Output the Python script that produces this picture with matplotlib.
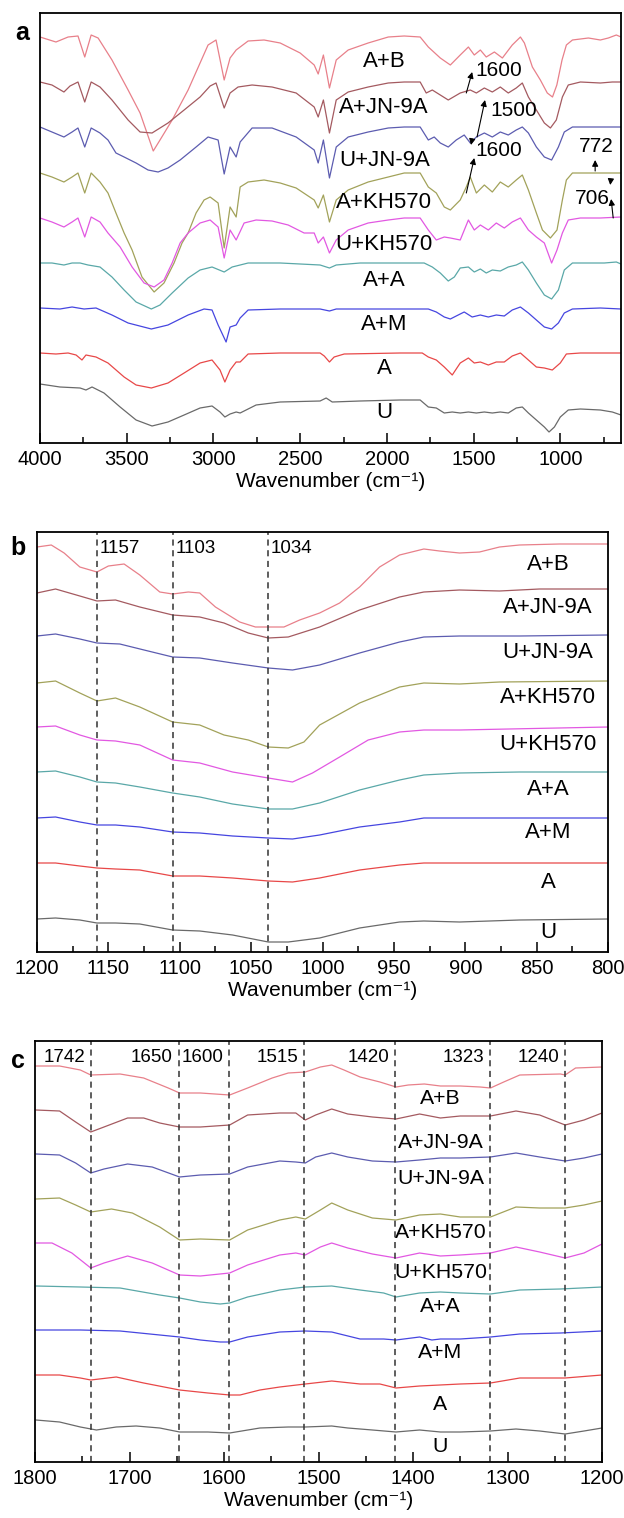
import numpy as np
import matplotlib
matplotlib.use("Agg")
import matplotlib.pyplot as plt
from matplotlib.ticker import MultipleLocator

plt.rcParams['font.family'] = ['Liberation Sans', 'DejaVu Sans']

# sample names, top to bottom, and line colours
names = ['A+B', 'A+JN-9A', 'U+JN-9A', 'A+KH570', 'U+KH570', 'A+A', 'A+M', 'A', 'U']
colors = ['#e8808a', '#a45a60', '#5c5cb0', '#a2a25a', '#e258e2',
          '#5aa8a8', '#4646e0', '#e84848', '#6a6a6a']

# ---- panel a: full spectra (wavenumber, transmittance a.u.) ----
a_AB = [(4000, 406), (3908, 401), (3838, 406), (3781, 407), (3742, 386), (3705, 408), (3665, 405),
        (3585, 383), (3492, 353), (3423, 330), (3347, 292), (3308, 303), (3238, 323), (3146, 353),
        (3077, 380), (3031, 398), (2985, 403), (2938, 363), (2904, 385), (2869, 393), (2800, 402),
        (2708, 403), (2615, 400), (2500, 390), (2419, 378), (2396, 369), (2366, 388), (2331, 355),
        (2292, 383), (2223, 393), (2108, 400), (1992, 406), (1900, 407), (1808, 406), (1761, 396),
        (1692, 385), (1634, 378), (1577, 388), (1530, 396), (1496, 388), (1461, 393), (1427, 386),
        (1380, 391), (1334, 385), (1277, 398), (1230, 406), (1207, 400), (1161, 376), (1115, 363),
        (1075, 350), (1045, 346), (1020, 358), (990, 383), (965, 398), (930, 403), (838, 405),
        (769, 403), (723, 405), (677, 408), (650, 406)]
a_AJN = [(4000, 361), (3931, 358), (3862, 351), (3827, 357), (3781, 361), (3742, 341), (3705, 361),
         (3654, 356), (3585, 343), (3492, 323), (3423, 311), (3354, 310), (3262, 320), (3169, 333),
         (3077, 346), (3019, 357), (2985, 360), (2938, 335), (2904, 350), (2858, 356), (2777, 358),
         (2662, 356), (2523, 350), (2419, 336), (2396, 326), (2366, 343), (2331, 310), (2292, 343),
         (2223, 351), (2108, 356), (1992, 360), (1900, 361), (1808, 361), (1773, 350), (1738, 353),
         (1692, 348), (1646, 343), (1577, 350), (1519, 353), (1484, 350), (1438, 355), (1392, 351),
         (1346, 356), (1300, 350), (1254, 355), (1219, 360), (1184, 346), (1138, 333), (1092, 320),
         (1057, 315), (1023, 323), (988, 346), (954, 358), (884, 361), (769, 360), (700, 361),
         (650, 361)]
a_UJN = [(4000, 316), (3931, 311), (3862, 306), (3815, 311), (3781, 315), (3742, 296), (3705, 315),
         (3654, 310), (3608, 303), (3562, 290), (3515, 286), (3446, 280), (3377, 273), (3319, 271),
         (3262, 275), (3192, 283), (3100, 296), (3031, 306), (2973, 303), (2938, 269), (2904, 296),
         (2869, 286), (2846, 301), (2777, 315), (2662, 315), (2523, 306), (2419, 293), (2396, 280),
         (2366, 303), (2331, 265), (2292, 296), (2223, 306), (2108, 311), (1992, 315), (1900, 316),
         (1808, 316), (1761, 303), (1727, 306), (1692, 300), (1646, 296), (1600, 303), (1554, 308),
         (1519, 300), (1484, 306), (1438, 310), (1392, 306), (1346, 311), (1300, 308), (1254, 313),
         (1219, 316), (1184, 310), (1138, 296), (1092, 286), (1050, 283), (1011, 296), (977, 311),
         (930, 316), (769, 316), (650, 316)]
a_AKH = [(4000, 270), (3931, 266), (3862, 261), (3815, 266), (3781, 270), (3742, 250), (3705, 270),
         (3654, 261), (3608, 250), (3562, 230), (3515, 210), (3469, 193), (3412, 166), (3342, 151),
         (3285, 160), (3227, 180), (3181, 200), (3146, 210), (3100, 230), (3054, 243), (3019, 246),
         (2973, 240), (2938, 195), (2904, 236), (2869, 226), (2846, 256), (2800, 261), (2708, 263),
         (2615, 260), (2523, 255), (2419, 243), (2396, 235), (2366, 248), (2331, 221), (2292, 243),
         (2223, 253), (2108, 261), (1992, 266), (1900, 270), (1808, 270), (1761, 256), (1715, 250),
         (1669, 236), (1634, 233), (1577, 243), (1542, 256), (1519, 266), (1484, 250), (1438, 258),
         (1392, 251), (1346, 261), (1300, 256), (1254, 263), (1219, 268), (1184, 253), (1138, 230),
         (1103, 213), (1057, 205), (1019, 213), (988, 243), (965, 263), (930, 270), (815, 270),
         (723, 270), (650, 270)]
a_UKH = [(4000, 225), (3931, 221), (3862, 216), (3815, 221), (3781, 225), (3742, 206), (3705, 226),
         (3654, 221), (3608, 210), (3538, 196), (3469, 176), (3400, 160), (3342, 156), (3285, 163),
         (3238, 180), (3192, 200), (3146, 210), (3077, 220), (3019, 223), (2973, 216), (2938, 185),
         (2904, 213), (2869, 203), (2823, 220), (2754, 223), (2662, 222), (2569, 218), (2477, 210),
         (2419, 210), (2396, 200), (2366, 206), (2331, 190), (2292, 203), (2223, 213), (2108, 220),
         (1992, 223), (1900, 225), (1808, 225), (1761, 213), (1715, 203), (1669, 206), (1634, 205),
         (1577, 203), (1530, 223), (1496, 213), (1461, 218), (1415, 213), (1369, 220), (1323, 215),
         (1277, 221), (1230, 225), (1184, 213), (1138, 206), (1092, 200), (1050, 180), (1019, 193),
         (988, 210), (954, 223), (884, 225), (769, 225), (650, 226)]
a_AA = [(4000, 180), (3931, 180), (3862, 178), (3815, 180), (3769, 180), (3723, 178), (3654, 176),
        (3585, 166), (3515, 153), (3446, 141), (3358, 134), (3308, 138), (3238, 150), (3146, 165),
        (3077, 173), (3008, 176), (2938, 171), (2892, 176), (2800, 180), (2615, 180), (2385, 178),
        (2331, 175), (2292, 178), (2154, 180), (1923, 180), (1785, 180), (1738, 176), (1692, 170),
        (1646, 162), (1611, 166), (1577, 175), (1530, 176), (1496, 171), (1461, 174), (1427, 170),
        (1392, 173), (1346, 172), (1300, 176), (1254, 178), (1219, 181), (1184, 173), (1138, 160),
        (1092, 148), (1050, 144), (1011, 153), (977, 173), (930, 180), (838, 180), (746, 180),
        (677, 181), (650, 179)]
a_AM = [(4000, 135), (3885, 134), (3815, 136), (3746, 134), (3677, 135), (3585, 128), (3492, 120),
        (3358, 114), (3262, 118), (3146, 128), (3054, 134), (3008, 133), (2973, 118), (2927, 101),
        (2904, 116), (2869, 118), (2846, 125), (2800, 133), (2615, 134), (2385, 134), (2331, 132),
        (2292, 134), (1923, 134), (1761, 134), (1715, 131), (1669, 126), (1634, 124), (1600, 127),
        (1554, 131), (1508, 126), (1461, 128), (1415, 126), (1369, 128), (1323, 127), (1277, 133),
        (1230, 136), (1184, 130), (1138, 123), (1092, 116), (1050, 114), (1011, 120), (977, 130),
        (930, 134), (769, 135), (650, 134)]
a_A = [(4000, 90), (3908, 89), (3838, 90), (3792, 88), (3758, 83), (3735, 88), (3677, 86),
       (3608, 80), (3515, 66), (3446, 58), (3358, 55), (3262, 60), (3169, 70), (3077, 80),
       (3008, 83), (2962, 73), (2934, 61), (2904, 73), (2869, 81), (2846, 81), (2800, 89),
       (2615, 90), (2385, 90), (2361, 87), (2331, 81), (2304, 86), (2246, 89), (1923, 90),
       (1796, 90), (1761, 86), (1715, 83), (1669, 76), (1623, 68), (1577, 80), (1530, 85),
       (1496, 80), (1461, 81), (1415, 78), (1369, 81), (1323, 81), (1277, 87), (1230, 90),
       (1184, 83), (1138, 76), (1092, 75), (1046, 73), (1000, 80), (965, 89), (884, 90), (650, 90)]
a_U = [(4000, 59), (3885, 56), (3769, 55), (3735, 53), (3700, 56), (3631, 50), (3538, 36),
       (3446, 23), (3354, 17), (3262, 21), (3169, 28), (3077, 35), (3008, 37), (2962, 31),
       (2934, 26), (2904, 29), (2869, 31), (2846, 30), (2754, 38), (2615, 41), (2385, 42),
       (2350, 45), (2315, 41), (2154, 42), (1923, 43), (1808, 43), (1761, 36), (1715, 35),
       (1669, 30), (1623, 31), (1577, 30), (1530, 31), (1484, 30), (1438, 31), (1392, 30),
       (1346, 31), (1300, 30), (1254, 35), (1219, 36), (1184, 30), (1138, 23), (1092, 16),
       (1065, 11), (1034, 16), (1000, 26), (954, 33), (884, 34), (769, 33), (700, 31), (650, 28)]
a_label_pos = [(2015, 381), (2015, 335), (2015, 283), (2015, 241), (2015, 198),
               (2015, 163), (2015, 118), (2015, 75), (2015, 30)]

# ---- panel b: 1200-800 cm-1 ----
b_AB = [(1200, 405), (1190, 407), (1181, 399), (1170, 385), (1158, 380), (1150, 386), (1139, 388),
        (1128, 377), (1114, 360), (1105, 358), (1094, 360), (1086, 359), (1075, 345), (1058, 330),
        (1047, 325), (1038, 325), (1027, 325), (1016, 332), (1002, 339), (988, 349), (974, 365),
        (960, 385), (946, 397), (929, 403), (918, 401), (904, 399), (890, 400), (876, 405),
        (862, 407), (834, 408), (800, 408)]
b_AJN = [(1200, 359), (1187, 363), (1170, 356), (1158, 351), (1145, 352), (1128, 345), (1105, 337),
         (1086, 335), (1069, 329), (1052, 319), (1038, 314), (1024, 315), (1002, 325), (974, 342),
         (946, 355), (929, 360), (904, 362), (876, 361), (848, 363), (800, 363)]
b_UJN = [(1200, 316), (1187, 318), (1170, 313), (1158, 309), (1142, 308), (1125, 302), (1105, 295),
         (1086, 294), (1063, 289), (1038, 284), (1021, 282), (1002, 287), (974, 299), (946, 310),
         (929, 315), (904, 316), (862, 316), (800, 317)]
b_AKH = [(1200, 269), (1187, 271), (1170, 259), (1158, 251), (1145, 254), (1128, 245), (1105, 230),
         (1086, 227), (1069, 217), (1052, 212), (1038, 205), (1024, 204), (1013, 210), (1002, 227),
         (974, 249), (946, 265), (929, 269), (904, 268), (876, 270), (800, 271)]
b_UKH = [(1200, 225), (1187, 226), (1170, 217), (1158, 212), (1145, 211), (1128, 207), (1105, 192),
         (1086, 189), (1063, 180), (1038, 174), (1021, 170), (1007, 179), (988, 195), (968, 212),
         (946, 220), (929, 222), (904, 222), (800, 225)]
b_AA = [(1200, 180), (1187, 181), (1170, 175), (1158, 170), (1145, 169), (1128, 165), (1105, 159),
        (1086, 155), (1063, 148), (1038, 143), (1021, 143), (1002, 149), (974, 162), (946, 172),
        (929, 177), (904, 179), (862, 180), (800, 180)]
b_AM = [(1200, 134), (1187, 135), (1170, 130), (1158, 127), (1145, 127), (1128, 125), (1105, 120),
        (1086, 119), (1063, 116), (1038, 114), (1021, 113), (1002, 117), (974, 125), (946, 130),
        (929, 134), (890, 134), (800, 134)]
b_A = [(1200, 89), (1187, 89), (1170, 86), (1158, 84), (1145, 83), (1128, 82), (1105, 76),
       (1086, 76), (1063, 74), (1038, 71), (1021, 70), (1002, 74), (974, 82), (946, 87),
       (929, 89), (890, 89), (800, 89)]
b_U = [(1200, 33), (1187, 34), (1170, 32), (1158, 29), (1145, 29), (1128, 28), (1105, 22),
       (1086, 21), (1063, 17), (1038, 10), (1024, 10), (1002, 14), (974, 24), (946, 30),
       (929, 31), (904, 30), (862, 32), (800, 33)]
b_label_pos = [(842, 387), (842, 344), (842, 299), (842, 254), (842, 207),
               (842, 162), (842, 119), (842, 70), (842, 19)]
b_marks = [1157, 1103, 1034]
b_mark_lines = [1158, 1105, 1038]

# ---- panel c: 1800-1200 cm-1 ----
c_AB = [(1799, 396), (1774, 396), (1752, 392), (1741, 387), (1710, 388), (1685, 384), (1659, 374),
        (1647, 369), (1625, 369), (1594, 367), (1575, 374), (1549, 384), (1532, 389), (1514, 390),
        (1498, 395), (1486, 397), (1473, 392), (1456, 385), (1435, 380), (1418, 375), (1405, 377),
        (1388, 378), (1371, 376), (1350, 376), (1329, 375), (1318, 374), (1304, 380), (1287, 387),
        (1244, 388), (1239, 387), (1228, 394), (1200, 395)]
c_AJN = [(1799, 352), (1774, 351), (1757, 340), (1741, 330), (1727, 335), (1702, 344), (1685, 344),
         (1668, 339), (1647, 335), (1625, 335), (1594, 337), (1575, 347), (1541, 349), (1524, 349),
         (1514, 342), (1503, 347), (1486, 353), (1469, 348), (1443, 345), (1418, 343), (1393, 348),
         (1371, 344), (1350, 346), (1318, 346), (1291, 351), (1266, 347), (1239, 337), (1219, 342),
         (1200, 349)]
c_UJN = [(1799, 308), (1774, 307), (1757, 299), (1741, 289), (1727, 293), (1702, 298), (1676, 295),
         (1647, 285), (1625, 287), (1594, 288), (1575, 295), (1541, 301), (1524, 300), (1514, 299),
         (1503, 305), (1486, 309), (1469, 305), (1443, 301), (1418, 300), (1393, 302), (1371, 304),
         (1350, 304), (1318, 305), (1291, 309), (1266, 305), (1239, 301), (1219, 304), (1200, 308)]
c_AKH = [(1799, 263), (1774, 264), (1757, 257), (1741, 250), (1719, 253), (1697, 249), (1668, 235),
         (1647, 222), (1625, 223), (1594, 222), (1575, 232), (1541, 242), (1524, 245), (1514, 243),
         (1498, 252), (1486, 259), (1469, 252), (1443, 244), (1418, 242), (1393, 247), (1371, 248),
         (1350, 245), (1318, 245), (1291, 255), (1266, 254), (1239, 254), (1219, 257), (1200, 261)]
c_UKH = [(1799, 219), (1782, 219), (1761, 209), (1741, 194), (1727, 199), (1702, 206), (1676, 199),
         (1647, 187), (1625, 186), (1594, 189), (1575, 197), (1541, 207), (1524, 209), (1514, 207),
         (1498, 215), (1486, 219), (1469, 214), (1443, 208), (1418, 204), (1393, 209), (1371, 206),
         (1350, 207), (1318, 209), (1291, 215), (1266, 210), (1239, 204), (1219, 209), (1200, 218)]
c_AA = [(1799, 176), (1752, 175), (1710, 174), (1668, 167), (1647, 164), (1625, 160), (1604, 158),
        (1594, 159), (1575, 165), (1541, 172), (1514, 175), (1486, 176), (1456, 172), (1431, 169),
        (1418, 165), (1393, 169), (1371, 170), (1350, 169), (1318, 168), (1287, 172), (1244, 173),
        (1200, 175)]
c_AM = [(1799, 132), (1752, 132), (1710, 131), (1668, 127), (1647, 125), (1625, 122), (1604, 120),
        (1594, 120), (1575, 125), (1541, 130), (1514, 131), (1486, 130), (1456, 123), (1431, 123),
        (1418, 122), (1393, 125), (1380, 122), (1371, 123), (1350, 123), (1318, 125), (1287, 128),
        (1244, 129), (1200, 131)]
c_A = [(1799, 87), (1774, 87), (1752, 84), (1741, 82), (1714, 85), (1685, 79), (1647, 72),
       (1617, 69), (1594, 67), (1583, 67), (1562, 72), (1541, 75), (1514, 78), (1486, 81),
       (1456, 78), (1435, 78), (1418, 74), (1393, 76), (1350, 78), (1318, 79), (1287, 84),
       (1239, 84), (1200, 87)]
c_U = [(1799, 42), (1774, 40), (1752, 35), (1735, 32), (1714, 35), (1693, 36), (1668, 34),
       (1647, 30), (1617, 30), (1594, 29), (1562, 34), (1532, 35), (1514, 35), (1486, 36),
       (1469, 34), (1443, 32), (1418, 30), (1393, 32), (1371, 30), (1350, 30), (1318, 31),
       (1291, 33), (1266, 31), (1239, 28), (1219, 31), (1200, 34)]
c_label_pos = [(1371, 364), (1371, 320), (1371, 284), (1371, 229), (1371, 190),
               (1371, 155), (1371, 109), (1371, 57), (1371, 15)]
c_marks = [1742, 1650, 1600, 1515, 1420, 1323, 1240]
c_mark_lines = [1741, 1648, 1595, 1515, 1419, 1319, 1239]


def style_axis(ax, xlim, ylim, major, minor):
    ax.set_xlim(*xlim)
    ax.set_ylim(*ylim)
    ax.xaxis.set_major_locator(MultipleLocator(major))
    ax.xaxis.set_minor_locator(MultipleLocator(minor))
    ax.tick_params(axis='x', which='both', direction='in', top=False, width=1.1,
                   labelsize=14.5, pad=5)
    ax.tick_params(axis='x', which='major', length=7)
    ax.tick_params(axis='x', which='minor', length=4)
    ax.tick_params(axis='y', left=False, labelleft=False)
    for s in ax.spines.values():
        s.set_linewidth(1.3)
    ax.set_xlabel('Wavenumber (cm\u207b\u00b9)', fontsize=15, labelpad=2)


def draw_curves(ax, curves):
    for spec, col in zip(curves, colors):
        arr = np.array(spec, dtype=float)
        ax.plot(arr[:, 0], arr[:, 1], color=col, lw=0.9)


fig = plt.figure(figsize=(6.24, 15.18), dpi=100)

# panel a
ax_a = fig.add_axes([40 / 624, 1 - 443 / 1518, 581 / 624, 430 / 1518])
draw_curves(ax_a, [a_AB, a_AJN, a_UJN, a_AKH, a_UKH, a_AA, a_AM, a_A, a_U])
style_axis(ax_a, (4000, 650), (0, 430), 500, 250)
for name, (x, y) in zip(names, a_label_pos):
    ax_a.text(x, y, name, fontsize=16, ha='center', va='center')

arrow = dict(arrowstyle='-|>', color='black', lw=0.8, mutation_scale=9, shrinkA=0, shrinkB=0)
ax_a.annotate('', xy=(1508, 371), xytext=(1542, 350), arrowprops=arrow)
ax_a.text(1490, 372, '1600', fontsize=15, ha='left', va='center')
ax_a.annotate('', xy=(1434, 343), xytext=(1480, 306), arrowprops=arrow)
ax_a.text(1403, 332, '1500', fontsize=15, ha='left', va='center')
ax_a.annotate('', xy=(1496, 285), xytext=(1542, 250), arrowprops=arrow)
ax_a.annotate('', xy=(1515, 298), xytext=(1508, 304), arrowprops=arrow)
ax_a.text(1490, 292, '1600', fontsize=15, ha='left', va='center')
ax_a.annotate('', xy=(799, 283), xytext=(799, 272), arrowprops=arrow)
ax_a.text(792, 297, '772', fontsize=15, ha='center', va='center')
ax_a.annotate('', xy=(707, 244), xytext=(695, 225), arrowprops=arrow)
ax_a.annotate('', xy=(712, 258), xytext=(709, 263), arrowprops=arrow)
ax_a.text(815, 245, '706', fontsize=15, ha='center', va='center')

# panel b
ax_b = fig.add_axes([37 / 624, 1 - 952 / 1518, 571 / 624, 420 / 1518])
draw_curves(ax_b, [b_AB, b_AJN, b_UJN, b_AKH, b_UKH, b_AA, b_AM, b_A, b_U])
style_axis(ax_b, (1200, 800), (0, 420), 50, 25)
for wn in b_mark_lines:
    ax_b.axvline(wn, color='#333333', lw=1.1, ls=(0, (4, 3)))
for lab, wn in zip(b_marks, b_mark_lines):
    ax_b.text(wn - 2, 403, str(lab), fontsize=13.5, ha='left', va='center')
for name, (x, y) in zip(names, b_label_pos):
    ax_b.text(x, y, name, fontsize=16, ha='center', va='center')

# panel c
ax_c = fig.add_axes([35 / 624, 1 - 1462 / 1518, 567 / 624, 421 / 1518])
draw_curves(ax_c, [c_AB, c_AJN, c_UJN, c_AKH, c_UKH, c_AA, c_AM, c_A, c_U])
style_axis(ax_c, (1800, 1200), (0, 421), 100, 50)
for wn in c_mark_lines:
    ax_c.axvline(wn, color='#333333', lw=1.1, ls=(0, (4, 3)))
for lab, wn in zip(c_marks, c_mark_lines):
    ax_c.text(wn + 6, 404, str(lab), fontsize=13.5, ha='right', va='center')
for name, (x, y) in zip(names, c_label_pos):
    ax_c.text(x, y, name, fontsize=15.3, ha='center', va='center')

# panel letters
fig.text(22 / 624, 1 - 33 / 1518, 'a', fontsize=18, fontweight='bold', ha='center', va='center')
fig.text(18 / 624, 1 - 548 / 1518, 'b', fontsize=18, fontweight='bold', ha='center', va='center')
fig.text(18 / 624, 1 - 1061 / 1518, 'c', fontsize=18, fontweight='bold', ha='center', va='center')

fig.savefig('out.png', dpi=100)
